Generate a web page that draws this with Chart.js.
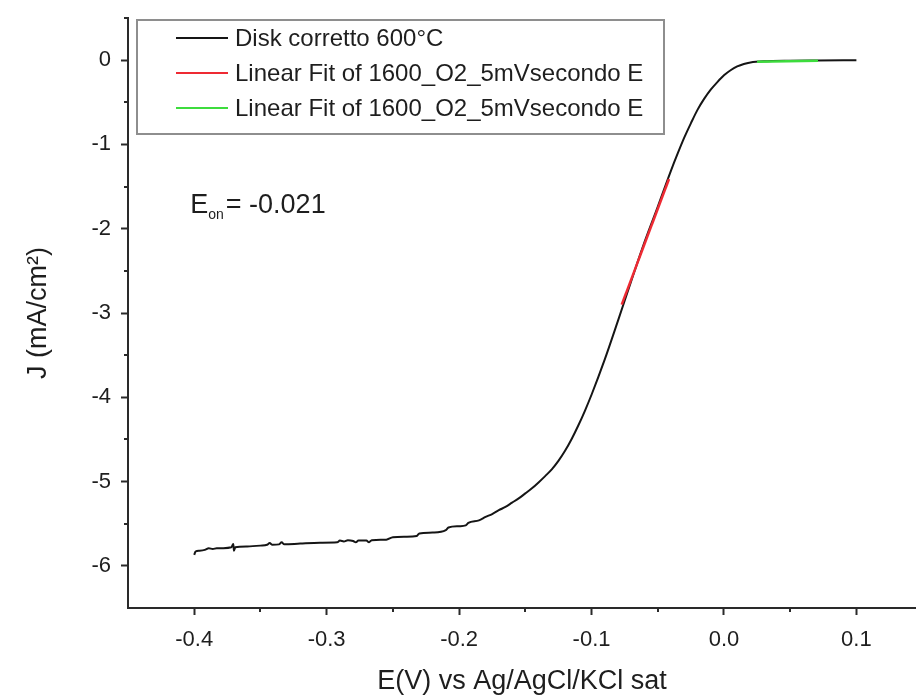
<!DOCTYPE html>
<html>
<head>
<meta charset="utf-8">
<script src="https://cdn.jsdelivr.net/npm/chart.js@4.4.1/dist/chart.umd.min.js"></script>
<style>
  html, body { margin: 0; padding: 0; background: #fff; }
</style>
</head>
<body>
<canvas id="chart" width="916" height="700"></canvas>
<script>
// polarization curve, E (V vs Ag/AgCl) and J (mA/cm2)
const potential = [
  -0.400, -0.399, -0.396, -0.392, -0.389, -0.386, -0.383, -0.378, -0.372, -0.3705,
  -0.370, -0.369, -0.360, -0.350, -0.345, -0.343, -0.341, -0.336, -0.334, -0.332,
  -0.320, -0.305, -0.292, -0.290, -0.287, -0.284, -0.280, -0.278, -0.276, -0.270,
  -0.268, -0.266, -0.255, -0.250, -0.240, -0.232, -0.230, -0.220, -0.210, -0.208,
  -0.200, -0.195, -0.193, -0.185, -0.180, -0.175, -0.170, -0.165, -0.160, -0.155,
  -0.150, -0.145, -0.140, -0.135, -0.130, -0.125, -0.120, -0.115, -0.110, -0.105,
  -0.100, -0.090, -0.080, -0.070, -0.060, -0.050, -0.040, -0.035, -0.030, -0.025,
  -0.020, -0.015, -0.010, -0.005, 0.000, 0.005, 0.010, 0.015, 0.020, 0.030,
  0.050, 0.070, 0.100
];
const current = [
  -5.87, -5.83, -5.82, -5.81, -5.79, -5.80, -5.79, -5.79, -5.78, -5.74,
  -5.82, -5.78, -5.77, -5.76, -5.75, -5.73, -5.75, -5.745, -5.72, -5.745,
  -5.735, -5.725, -5.72, -5.70, -5.71, -5.695, -5.705, -5.72, -5.70, -5.70,
  -5.72, -5.695, -5.69, -5.66, -5.655, -5.645, -5.615, -5.605, -5.575, -5.545,
  -5.53, -5.52, -5.49, -5.46, -5.42, -5.385, -5.34, -5.30, -5.25, -5.20,
  -5.14, -5.08, -5.01, -4.935, -4.855, -4.755, -4.635, -4.495, -4.335, -4.16,
  -3.97, -3.55, -3.09, -2.62, -2.16, -1.74, -1.31, -1.11, -0.92, -0.75,
  -0.59, -0.46, -0.35, -0.26, -0.18, -0.12, -0.075, -0.045, -0.028, -0.014,
  -0.006, -0.003, 0.000
];

// linear fits (end points)
const redFitE = [-0.0772, -0.0415];
const redFitJ = [-2.90, -1.41];
const greenFitE = [0.025, 0.071];
const greenFitJ = [-0.02, -0.006];

const seriesLabels = [
  "Disk corretto 600°C",
  "Linear Fit of 1600_O2_5mVsecondo E",
  "Linear Fit of 1600_O2_5mVsecondo E"
];
const onsetValue = "-0.021";
const onsetPos = [-0.403, -1.81];

const xMajor = [-0.4, -0.3, -0.2, -0.1, 0.0, 0.1];
const xMinor = [-0.35, -0.25, -0.15, -0.05, 0.05];
const yMajor = [-6, -5, -4, -3, -2, -1, 0];
const yMinor = [-5.5, -4.5, -3.5, -2.5, -1.5, -0.5, 0.5];

const xTitle = "E(V) vs Ag/AgCl/KCl sat";
const yTitle = "J (mA/cm²)";

const family = "'Liberation Sans', Arial, sans-serif";
const axisColor = "#2a2a2a";
const textColor = "#1e1e1e";

function toPoints(xs, ys) {
  return xs.map((v, i) => ({ x: v, y: ys[i] }));
}

// minor ticks, legend box and E_on label
const overlay = {
  id: "overlay",
  afterDraw(chart) {
    const { ctx, chartArea, scales } = chart;
    const sx = scales.x, sy = scales.y;
    ctx.save();

    ctx.strokeStyle = axisColor;
    ctx.lineWidth = 2;
    ctx.beginPath();
    xMinor.forEach(v => {
      const px = Math.round(sx.getPixelForValue(v));
      ctx.moveTo(px, chartArea.bottom);
      ctx.lineTo(px, chartArea.bottom + 4);
    });
    yMinor.forEach(v => {
      const py = Math.round(sy.getPixelForValue(v));
      ctx.moveTo(chartArea.left, py);
      ctx.lineTo(chartArea.left - 4, py);
    });
    ctx.stroke();

    // legend
    const bx = chartArea.left + 9, by = chartArea.top + 2;
    ctx.fillStyle = "#fff";
    ctx.fillRect(bx, by, 527, 114);
    ctx.strokeStyle = "#8e8e8e";
    ctx.lineWidth = 2;
    ctx.strokeRect(bx, by, 527, 114);
    ctx.font = "24px " + family;
    ctx.textBaseline = "middle";
    ctx.textAlign = "left";
    chart.data.datasets.forEach((ds, i) => {
      const ry = by + 18 + i * 35;
      ctx.strokeStyle = ds.borderColor;
      ctx.lineWidth = 2;
      ctx.beginPath();
      ctx.moveTo(bx + 39, ry);
      ctx.lineTo(bx + 91, ry);
      ctx.stroke();
      ctx.fillStyle = textColor;
      ctx.fillText(ds.label, bx + 98, ry + 1);
    });

    // onset potential
    const ox = sx.getPixelForValue(onsetPos[0]);
    const oy = sy.getPixelForValue(onsetPos[1]);
    ctx.textBaseline = "alphabetic";
    ctx.font = "27px " + family;
    ctx.fillText("E", ox, oy);
    const ew = ctx.measureText("E").width;
    ctx.font = "14px " + family;
    ctx.fillText("on", ox + ew, oy + 6);
    const sw = ctx.measureText("on").width;
    ctx.font = "27px " + family;
    ctx.fillText("= " + onsetValue, ox + ew + sw + 2, oy);

    ctx.restore();
  }
};

const ctx = document.getElementById("chart").getContext("2d");
new Chart(ctx, {
  type: "line",
  data: {
    datasets: [
      {
        label: seriesLabels[0],
        data: toPoints(potential, current),
        borderColor: "#151515",
        borderWidth: 2,
        pointRadius: 0,
        cubicInterpolationMode: "monotone",
        order: 2
      },
      {
        label: seriesLabels[1],
        data: toPoints(redFitE, redFitJ),
        borderColor: "#ee2a33",
        borderWidth: 2.5,
        pointRadius: 0,
        order: 1
      },
      {
        label: seriesLabels[2],
        data: toPoints(greenFitE, greenFitJ),
        borderColor: "#3ddc3d",
        borderWidth: 2.5,
        pointRadius: 0,
        order: 1
      }
    ]
  },
  options: {
    responsive: false,
    animation: false,
    layout: { padding: { top: 18, left: 0, right: 0, bottom: 0 } },
    plugins: {
      legend: { display: false },
      tooltip: { enabled: false }
    },
    scales: {
      x: {
        type: "linear",
        min: -0.45,
        max: 0.145,
        afterBuildTicks: s => { s.ticks = xMajor.map(v => ({ value: v })); },
        afterFit: s => { s.height = 92; s.paddingLeft = 0; s.paddingRight = 0; },
        grid: { drawOnChartArea: false, tickLength: 7, tickWidth: 2, tickColor: axisColor },
        border: { color: axisColor, width: 2 },
        ticks: {
          color: textColor,
          font: { size: 22, family: family },
          padding: 12,
          maxRotation: 0,
          autoSkip: false,
          callback: v => Number(v).toFixed(1)
        },
        title: {
          display: true,
          text: xTitle,
          color: textColor,
          font: { size: 27, family: family },
          padding: { top: 0, bottom: 2 }
        }
      },
      y: {
        type: "linear",
        min: -6.5,
        max: 0.5,
        afterBuildTicks: s => { s.ticks = yMajor.map(v => ({ value: v })); },
        afterFit: s => { s.width = 128; s.paddingTop = 0; s.paddingBottom = 0; },
        grid: { drawOnChartArea: false, tickLength: 7, tickWidth: 2, tickColor: axisColor },
        border: { color: axisColor, width: 2 },
        ticks: {
          color: textColor,
          font: { size: 22, family: family },
          padding: 10,
          autoSkip: false,
          callback: v => String(v)
        },
        title: {
          display: true,
          text: yTitle,
          color: textColor,
          font: { size: 27, family: family },
          padding: { top: 22, bottom: 0 }
        }
      }
    }
  },
  plugins: [overlay]
});
</script>
</body>
</html>
